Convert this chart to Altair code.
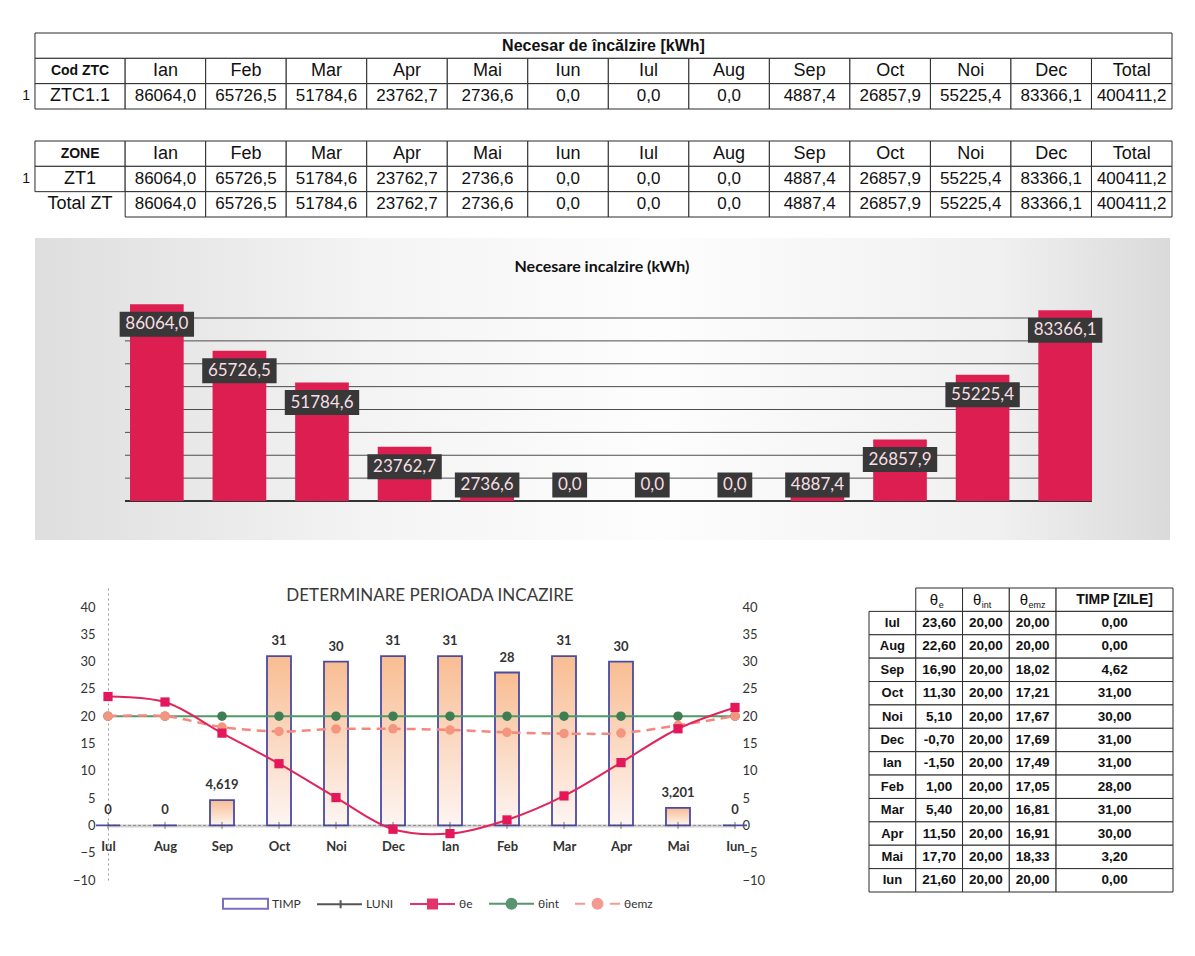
import altair as alt
import pandas as pd

# ------------------------------------------------------------------ data
luni_tabel = ["Ian", "Feb", "Mar", "Apr", "Mai", "Iun", "Iul", "Aug", "Sep", "Oct", "Noi", "Dec"]
necesar_kwh = [86064.0, 65726.5, 51784.6, 23762.7, 2736.6, 0.0, 0.0, 0.0, 4887.4, 26857.9, 55225.4, 83366.1]
total_kwh = 400411.2
luni_grafic = ["IAN", "FEB", "MAR", "APR", "MAI", "IUN", "IUL", "AUG", "SEP", "OCT", "NOI", "DEC"]
grid_kwh = [10000, 20000, 30000, 40000, 50000, 60000, 70000, 80000]

luni_perioada = ["Iul", "Aug", "Sep", "Oct", "Noi", "Dec", "Ian", "Feb", "Mar", "Apr", "Mai", "Iun"]
theta_e = [23.60, 22.60, 16.90, 11.30, 5.10, -0.70, -1.50, 1.00, 5.40, 11.50, 17.70, 21.60]
theta_int = [20.00, 20.00, 20.00, 20.00, 20.00, 20.00, 20.00, 20.00, 20.00, 20.00, 20.00, 20.00]
theta_emz = [20.00, 20.00, 18.02, 17.21, 17.67, 17.69, 17.49, 17.05, 16.81, 16.91, 18.33, 20.00]
timp_zile = [0.0, 0.0, 4.619, 31.0, 30.0, 31.0, 31.0, 28.0, 31.0, 30.0, 3.201, 0.0]
luni_serie = [0, 0, 0, 0, 0, 0, 0, 0, 0, 0, 0, 0]
axa_y = [-10, -5, 0, 5, 10, 15, 20, 25, 30, 35, 40]
serii = ["TIMP", "LUNI", "θe", "θint", "θemz"]

FONT_T = "Liberation Sans Narrow, Arial Narrow, Liberation Sans, sans-serif"
FONT_C = "Lato, Open Sans, sans-serif"


def ro(v, d):
    return f"{v:.{d}f}".replace(".", ",")


def ro_g(v):
    return f"{v:g}".replace(".", ",")


# ------------------------------------------------------------------ table helper
def table_chart(recs, xdom, ydom, w, h, styles):
    df = pd.DataFrame(recs)
    if "dxu" not in df:
        df["dxu"] = 0.0
    df["tx"] = (df["x0"] + df["x1"]) / 2 + df["dxu"]
    df["ty"] = (df["y0"] + df["y1"]) / 2
    base = alt.Chart(df)

    def X(f):
        return alt.X(f, type="quantitative", scale=alt.Scale(domain=xdom, nice=False, zero=False), axis=None)

    def Y(f):
        return alt.Y(f, type="quantitative",
                     scale=alt.Scale(domain=ydom, nice=False, zero=False, reverse=True), axis=None)

    layers = [base.transform_filter("datum.box").mark_rect(fill="white", stroke="#2b2b2b", strokeWidth=1)
              .encode(x=X("x0"), x2=alt.X2("x1"), y=Y("y0"), y2=alt.Y2("y1"))]
    for kind, st in styles.items():
        layers.append(base.transform_filter(f"datum.kind == '{kind}'").mark_text(**st)
                      .encode(x=X("tx"), y=Y("ty"), text="text:N"))
    return alt.layer(*layers).properties(width=w, height=h)


# column edges for the two top tables (first column a bit wider)
edges = [0.0, 1.12] + [1.12 + k for k in range(1, 14)]

t_styles = {
    "title": dict(font=FONT_T, fontSize=16, fontWeight="bold", color="#111"),
    "hbold": dict(font=FONT_T, fontSize=14, fontWeight="bold", color="#111"),
    "head": dict(font=FONT_T, fontSize=18, color="#111"),
    "val": dict(font=FONT_T, fontSize=17, color="#111"),
    "num": dict(font=FONT_T, fontSize=14, color="#111", align="right"),
}

# table 1
r1 = [dict(x0=0, x1=edges[-1], y0=0, y1=1, text="Necesar de încălzire [kWh]", kind="title", box=True)]
head1 = ["Cod ZTC"] + luni_tabel + ["Total"]
vals1 = ["ZTC1.1"] + [ro(v, 1) for v in necesar_kwh] + [ro(total_kwh, 1)]
for i in range(14):
    r1.append(dict(x0=edges[i], x1=edges[i + 1], y0=1, y1=2, text=head1[i],
                   kind="hbold" if i == 0 else "head", box=True))
    r1.append(dict(x0=edges[i], x1=edges[i + 1], y0=2, y1=3, text=vals1[i],
                   kind="head" if i == 0 else "val", box=True))
r1.append(dict(x0=-0.06, x1=-0.06, y0=2, y1=3, text="1", kind="num", box=False))
t1 = table_chart(r1, [-0.186, edges[-1]], [0, 3], 1152, 76, t_styles)

# table 2
r2 = []
head2 = ["ZONE"] + luni_tabel + ["Total"]
vals2 = ["ZT1"] + [ro(v, 1) for v in necesar_kwh] + [ro(total_kwh, 1)]
vals3 = ["Total ZT"] + [ro(v, 1) for v in necesar_kwh] + [ro(total_kwh, 1)]
for i in range(14):
    r2.append(dict(x0=edges[i], x1=edges[i + 1], y0=0, y1=1, text=head2[i],
                   kind="hbold" if i == 0 else "head", box=True))
    r2.append(dict(x0=edges[i], x1=edges[i + 1], y0=1, y1=2, text=vals2[i],
                   kind="head" if i == 0 else "val", box=True))
    r2.append(dict(x0=edges[i], x1=edges[i + 1], y0=2, y1=3, text=vals3[i],
                   kind="head" if i == 0 else "val", box=(i != 0)))
r2.append(dict(x0=-0.06, x1=-0.06, y0=1, y1=2, text="1", kind="num", box=False))
t2 = table_chart(r2, [-0.186, edges[-1]], [0, 3], 1152, 76, t_styles)

# ------------------------------------------------------------------ bar chart
bar_df = pd.DataFrame({"luna": luni_grafic, "kwh": necesar_kwh,
                       "label": [ro(v, 1) for v in necesar_kwh]})
ydom_b = [-17049, 114973]


def yb(f):
    return alt.Y(f, type="quantitative", scale=alt.Scale(domain=ydom_b, nice=False, zero=False), axis=None)


xb = alt.X("luna:N", sort=luni_grafic,
           scale=alt.Scale(domain=luni_grafic, range=[110, 1072], paddingInner=0.35, paddingOuter=0),
           axis=alt.Axis(orient="bottom", offset=-28.5, labelPadding=2, domain=False, ticks=False,
                         labelAngle=0, labelFont=FONT_C, labelFontSize=15, labelColor="#333",
                         title=None, grid=False))

one = pd.DataFrame({"k": [0]})
bg_grad = {"gradient": "linear", "x1": 0, "y1": 0, "x2": 1, "y2": 0,
           "stops": [{"offset": 0, "color": "#dedede"}, {"offset": 0.3, "color": "#f4f4f4"},
                     {"offset": 0.55, "color": "#fdfdfd"}, {"offset": 0.85, "color": "#f0f0f0"},
                     {"offset": 1, "color": "#dadada"}]}
bg = alt.Chart(one).mark_rect(color=bg_grad).encode(
    x=alt.value(15), x2=alt.value(1150), y=alt.value(0), y2=alt.value(302))
grid = alt.Chart(pd.DataFrame({"g": grid_kwh})).mark_rule(color="#4d4d4d", strokeWidth=1).encode(
    y=yb("g"), x=alt.value(105), x2=alt.value(1072))
base0 = alt.Chart(pd.DataFrame({"g": [0]})).mark_rule(color="#333", strokeWidth=2).encode(
    y=yb("g"), x=alt.value(105), x2=alt.value(1072))
bars = alt.Chart(bar_df).mark_bar(color="#dc1f50").encode(x=xb, y=yb("kwh"))
lab_base = alt.Chart(bar_df).transform_calculate(
    c="max(datum.kwh, 15750) - 8750",
    lo="datum.c - 5460", hi="datum.c + 5460",
    w="(length(datum.label) - 1) * 9.9 + 4 + 11")
boxes = lab_base.mark_bar(color="#383838").encode(
    x=xb, y=yb("lo:Q"), y2=alt.Y2("hi:Q"), size=alt.Size("w:Q", scale=None))
btext = lab_base.mark_text(font=FONT_C, fontSize=17, color="#f7dfe5").encode(
    x=xb, y=yb("c:Q"), text="label:N")
btitle = alt.Chart(one).mark_text(text="Necesare incalzire (kWh)", font=FONT_C, fontSize=16,
                                   fontWeight="bold", color="#111").encode(
    x=alt.value(582), y=alt.value(29))
bar_chart = alt.layer(bg, grid, base0, bars, boxes, btext, btitle).properties(width=1152, height=302)

# ------------------------------------------------------------------ heating period chart
per_df = pd.DataFrame({"luna": luni_perioada, "te": theta_e, "ti": theta_int, "tm": theta_emz,
                       "timp": timp_zile, "lz": luni_serie, "lbl": [ro_g(v) for v in timp_zile]})
ydom_l = [-10, 43.48]

xl = alt.X("luna:N", sort=luni_perioada,
           scale=alt.Scale(domain=luni_perioada, type="point", padding=0, range=[88, 715]),
           axis=alt.Axis(orient="bottom", offset=-54.6, labelPadding=15, domainColor="#d2d2d2",
                         domainWidth=3, ticks=False, labelAngle=0, labelFont=FONT_C, labelFontSize=13,
                         labelFontWeight="bold", labelColor="#333", title=None, grid=False))
ax_left = alt.Axis(orient="left", offset=-88, values=axa_y, labelPadding=13, ticks=False, domain=True,
                   domainDash=[2, 3], domainColor="#9a9a9a", grid=False, minExtent=0,
                   title=None, labelFont=FONT_C, labelFontSize=13, labelColor="#333")


def yl(f):
    return alt.Y(f, type="quantitative", scale=alt.Scale(domain=ydom_l, nice=False, zero=False), axis=ax_left)


timp_grad = {"gradient": "linear", "x1": 0, "y1": 0, "x2": 0, "y2": 1,
             "stops": [{"offset": 0, "color": "#f8bd92"}, {"offset": 1, "color": "#fdf5f2"}]}
pbase = alt.Chart(per_df)
l_bars = pbase.mark_bar(size=24, fill=timp_grad, stroke="#4b4ba3", strokeWidth=1.8).encode(x=xl, y=yl("timp"))
l_blab = pbase.mark_text(dy=-15, font=FONT_C, fontSize=13, fontWeight="bold", color="#333").encode(
    x=xl, y=yl("timp"), text="lbl:N")
l_luni = pbase.mark_line(color="#444", strokeWidth=1, strokeDash=[3, 2], opacity=0.5).encode(x=xl, y=yl("lz"))
l_luni_p = pbase.mark_point(shape="M0,-1V1", size=49, stroke="#555", strokeWidth=1, filled=False,
                            opacity=0.8).encode(x=xl, y=yl("lz"))
l_int = pbase.mark_line(color="#4e9a66", strokeWidth=2).encode(x=xl, y=yl("ti"))
l_int_p = pbase.mark_point(shape="circle", filled=True, size=90, color="#3f7d52", opacity=1).encode(x=xl, y=yl("ti"))
l_emz = pbase.mark_line(color="#f5877c", strokeWidth=2.5, strokeDash=[9, 6], interpolate="catmull-rom").encode(
    x=xl, y=yl("tm"))
l_emz_p = pbase.mark_point(shape="circle", filled=True, size=90, color="#f4967f", opacity=1).encode(x=xl, y=yl("tm"))
l_e = pbase.mark_line(color="#e2245d", strokeWidth=2, interpolate="catmull-rom").encode(x=xl, y=yl("te"))
l_e_p = pbase.mark_point(shape="square", filled=True, size=85, color="#e3175a", opacity=1).encode(x=xl, y=yl("te"))
l_title = alt.Chart(one).mark_text(text="DETERMINARE PERIOADA INCAZIRE", font=FONT_C, fontSize=17,
                                    color="#3a3a3a").encode(x=alt.value(410), y=alt.value(8))

circ = "M0.22,0A0.22,0.22 0 1,1 -0.22,0A0.22,0.22 0 1,1 0.22,0Z"
leg_paths = ["M-1,-0.22H1V0.22H-1Z",
             "M-1,0H1M0.05,-0.18V0.18",
             "M-1,0H1M-0.2,-0.2H0.2V0.2H-0.2Z",
             "M-1,0H1M" + circ[1:],
             "M-1,0H-0.55M0.55,0H1M" + circ[1:]]
leg_strokes = ["#7b6fc0", "#555555", "#e4336b", "#5a9470", "#f59a90"]
leg_fills = ["#ffffff", "#555555", "#e4336b", "#5a9470", "#f59a90"]
# legend ends up in the root group: position relative to the chart origin
leg = alt.Legend(orient="none", legendX=202, legendY=847, direction="horizontal", title=None,
                 symbolSize=2025, symbolStrokeWidth=2, labelFont=FONT_C, labelFontSize=12,
                 labelColor="#333", columnPadding=12, labelOffset=3, symbolOpacity=1)
dummy = alt.Chart(pd.DataFrame({"s": serii})).transform_filter("false").mark_point(
    filled=True, strokeWidth=2, opacity=1).encode(
    shape=alt.Shape("s:N", scale=alt.Scale(domain=serii, range=leg_paths), legend=leg),
    fill=alt.Fill("s:N", scale=alt.Scale(domain=serii, range=leg_fills), legend=leg),
    stroke=alt.Stroke("s:N", scale=alt.Scale(domain=serii, range=leg_strokes), legend=leg))

main = alt.layer(l_bars, l_blab, l_luni, l_luni_p, l_int, l_int_p, l_emz, l_emz_p, l_e, l_e_p, l_title, dummy)
right = pbase.mark_point(opacity=0).encode(
    x=xl,
    y=alt.Y("te:Q", scale=alt.Scale(domain=ydom_l, nice=False, zero=False),
            axis=alt.Axis(orient="right", values=axa_y, labelPadding=7, ticks=False, domain=False,
                          grid=False, minExtent=40, maxExtent=40, title=None, labelFont=FONT_C,
                          labelFontSize=13, labelColor="#333")))
line_chart = alt.layer(main, right).resolve_scale(y="independent").properties(width=715, height=292)

# ------------------------------------------------------------------ table 3
e3 = [0, 1, 2, 3, 4, 6.5]
r3 = [dict(x0=0, x1=1, y0=0, y1=1, text="", kind="none", box=False, dxu=0.0)]
subs = ["e", "int", "emz"]
for j, sb in enumerate(subs):
    cx = (e3[j + 1] + e3[j + 2]) / 2
    r3.append(dict(x0=e3[j + 1], x1=e3[j + 2], y0=0, y1=1, text="", kind="none", box=True, dxu=0.0))
    r3.append(dict(x0=cx, x1=cx, y0=0, y1=1, text="θ", kind="theta", box=False, dxu=0.02 - 0.04 * len(sb)))
    r3.append(dict(x0=cx, x1=cx, y0=0, y1=1, text=sb, kind="sub", box=False, dxu=0.03 - 0.04 * len(sb)))
r3.append(dict(x0=e3[4], x1=e3[5], y0=0, y1=1, text="TIMP [ZILE]", kind="hbold", box=True, dxu=0.0))
for i, m in enumerate(luni_perioada):
    row = [m, ro(theta_e[i], 2), ro(theta_int[i], 2), ro(theta_emz[i], 2), ro(timp_zile[i], 2)]
    for j, t in enumerate(row):
        r3.append(dict(x0=e3[j], x1=e3[j + 1], y0=i + 1, y1=i + 2, text=t,
                       kind="rowlab" if j == 0 else "val", box=True, dxu=0.0))
t3_styles = {
    "hbold": dict(font=FONT_T, fontSize=14, fontWeight="bold", color="#111"),
    "theta": dict(font=FONT_T, fontSize=15, color="#111", align="right"),
    "sub": dict(font=FONT_T, fontSize=9, color="#111", align="left", dy=5),
    "rowlab": dict(font=FONT_T, fontSize=13, fontWeight="bold", color="#111"),
    "val": dict(font=FONT_T, fontSize=13.5, fontWeight="bold", color="#111"),
}
t3 = table_chart(r3, [0, 6.5], [0, 13], 304, 304, t3_styles)

# ------------------------------------------------------------------ layout
bottom = alt.hconcat(line_chart, t3, spacing=93)
top = alt.vconcat(alt.vconcat(alt.vconcat(t1, t2, spacing=30), bar_chart, spacing=20), bottom, spacing=47)
chart = top.properties(padding={"left": 12, "top": 24, "right": 0, "bottom": 0}).configure_view(stroke=None)

chart.save("out.html", embed_options={"renderer": "svg", "actions": False})
